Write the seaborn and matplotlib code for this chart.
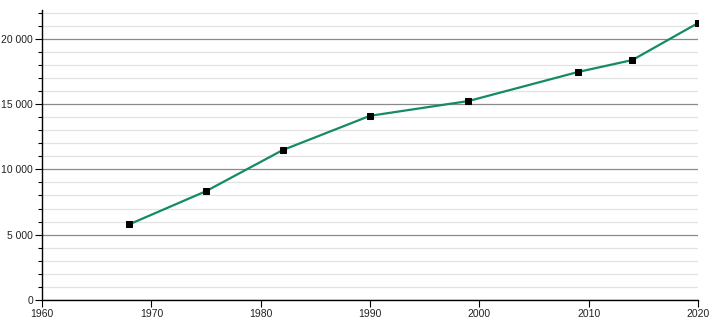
import matplotlib
matplotlib.use("Agg")
import matplotlib.pyplot as plt
import seaborn as sns
import pandas as pd
from matplotlib.ticker import MultipleLocator, FuncFormatter

years = [1968, 1975, 1982, 1990, 1999, 2009, 2014, 2020]
population = [5800, 8330, 11470, 14100, 15230, 17450, 18370, 21200]

df = pd.DataFrame({"year": years, "population": population})

sns.set_theme(style="white")
plt.rcParams['font.family'] = ['Liberation Sans', 'DejaVu Sans']

fig = plt.figure(figsize=(7.1, 3.2), dpi=100)
ax = fig.add_axes([42/710, 20/320, 656/710, 290/320])

sns.lineplot(data=df, x="year", y="population", ax=ax, color="#158a68",
             linewidth=1.6, marker="s", markersize=4,
             markerfacecolor="black", markeredgecolor="black", zorder=3)

ax.set_xlim(1960, 2020)
ax.set_ylim(0, 22200)
ax.xaxis.set_major_locator(MultipleLocator(10))
ax.yaxis.set_major_locator(MultipleLocator(5000))
ax.yaxis.set_minor_locator(MultipleLocator(1000))
ax.yaxis.set_major_formatter(FuncFormatter(lambda v, p: f"{int(v):,}".replace(",", " ")))

ax.grid(which="major", axis="y", color="#8a8a8a", linewidth=0.9)
ax.grid(which="minor", axis="y", color="#e2e2e2", linewidth=0.9)
ax.set_axisbelow(True)

for s in ["top", "right"]:
    ax.spines[s].set_visible(False)
for s in ["left", "bottom"]:
    ax.spines[s].set_color("black")
    ax.spines[s].set_linewidth(1.0)

ax.tick_params(axis="both", which="major", direction="out", length=5, width=0.8,
               color="black", labelsize=7.5, labelcolor="#222222", pad=1.5,
               bottom=True, left=True)
ax.tick_params(axis="y", which="minor", direction="out", length=3, width=0.8,
               color="black", left=True)
ax.set_xlabel("")
ax.set_ylabel("")

fig.savefig("out.png", dpi=100)
